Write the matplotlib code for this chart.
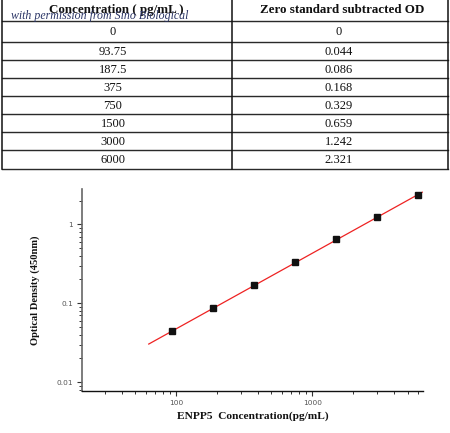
import numpy as np
import matplotlib
matplotlib.use("Agg")
import matplotlib.pyplot as plt
from matplotlib.lines import Line2D

# ---- data ----
concentration_labels = ["0", "93.75", "187.5", "375", "750", "1500", "3000", "6000"]
od_labels = ["0", "0.044", "0.086", "0.168", "0.329", "0.659", "1.242", "2.321"]
conc = [93.75, 187.5, 375, 750, 1500, 3000, 6000]
od = [0.044, 0.086, 0.168, 0.329, 0.659, 1.242, 2.321]
fit_range = [63, 6400]
header = ["Concentration ( pg/mL )", "Zero standard subtracted OD"]
xlabel = "ENPP5  Concentration(pg/mL)"
ylabel = "Optical Density (450nm)"
watermark = "with permission from Sino Biological"
xticks = [100, 1000]
xticklabels = ["100", "1000"]
yticks = [0.01, 0.1, 1]
yticklabels = ["0.01", "0.1", "1"]

W, H = 450, 433
fig = plt.figure(figsize=(W / 100, H / 100), dpi=100)

# ---- table (pixel-coordinate overlay axes) ----
tab = fig.add_axes([0, 0, 1, 1])
tab.set_xlim(0, W)
tab.set_ylim(H, 0)
tab.axis("off")

serif = ["Liberation Serif", "DejaVu Serif"]
left_x, mid_x, right_x = 1.5, 232, 447.5
header_bottom = 20.7
row_lines = [41.7, 59.8, 78.0, 96.0, 114.0, 132.3, 150.3, 168.5]
col_centers = [113, 339]

# horizontal lines
for yy in [header_bottom] + row_lines:
    tab.add_line(Line2D([left_x, right_x], [yy, yy], color="#2a2a2a", lw=1.0))
    tab.add_line(Line2D([left_x, right_x], [yy + 1.1, yy + 1.1], color="#d0d0d0", lw=0.5))
# vertical lines
for xx in [left_x, mid_x, right_x]:
    tab.add_line(Line2D([xx, xx], [0, row_lines[-1]], color="#111111", lw=1.1))

# header
for cx, txt in zip(col_centers, header):
    tab.text(cx + 3, 10.0, txt, ha="center", va="center", fontsize=9.4,
             fontweight="bold", family=serif, color="#111111")

# rows
tops = [header_bottom] + row_lines[:-1]
bots = row_lines
for i, (c, o) in enumerate(zip(concentration_labels, od_labels)):
    yc = (tops[i] + bots[i]) / 2 + 0.8
    tab.text(col_centers[0], yc, c, ha="center", va="center", fontsize=9.0,
             family=serif, color="#111111")
    tab.text(col_centers[1], yc, o, ha="center", va="center", fontsize=9.0,
             family=serif, color="#111111")

# watermark
tab.text(11, 16.0, watermark, ha="left", va="center", fontsize=8.6,
         family=serif, style="italic", color="#2b3566")

# ---- chart ----
ax = fig.add_axes([82 / W, 1 - 390.7 / H, (423 - 82) / W, (390.7 - 189) / H])
ax.set_xscale("log")
ax.set_yscale("log")
ax.set_xlim(20.4, 6480)
ax.set_ylim(0.0078, 2.8)

# fitted line (log-log linear regression)
b, a = np.polyfit(np.log10(conc), np.log10(od), 1)
xf = np.array(fit_range, dtype=float)
yf = 10 ** (a + b * np.log10(xf))
ax.plot(xf, yf, color="#ee2222", lw=0.9, zorder=2)

ax.plot(conc, od, linestyle="none", marker="s", markersize=3.8,
        color="#111111", zorder=3)

for s in ["top", "right"]:
    ax.spines[s].set_visible(False)
ax.spines["left"].set_color("#666666")
ax.spines["left"].set_linewidth(1.2)
ax.spines["bottom"].set_color("#111111")
ax.spines["bottom"].set_linewidth(1.0)

ax.set_xticks(xticks)
ax.set_xticklabels(xticklabels)
ax.set_yticks(yticks)
ax.set_yticklabels(yticklabels)
ax.tick_params(axis="both", which="major", length=3.5, width=0.8, color="#333333",
               labelsize=5.3, labelcolor="#555555", pad=3)
ax.tick_params(axis="both", which="minor", length=2.0, width=0.7, color="#333333")

ax.set_xlabel(xlabel, fontsize=8.2, fontweight="bold", family=serif,
              color="#111111", labelpad=4)
ax.set_ylabel(ylabel, fontsize=7.6, fontweight="bold", family=serif,
              color="#111111", labelpad=12)

fig.savefig("out.png", dpi=100)
